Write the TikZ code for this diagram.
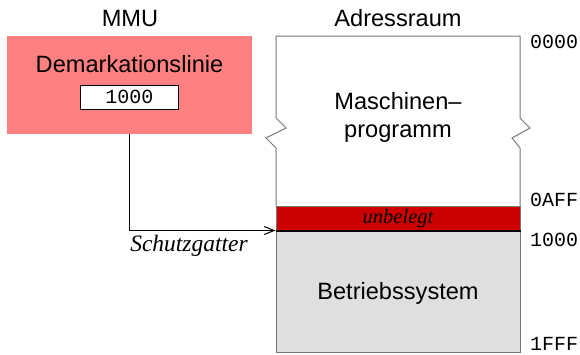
\documentclass[tikz,border=0pt]{standalone}
\usepackage{fontspec}
\setmainfont{Liberation Serif}
\setsansfont{Liberation Sans}
\setmonofont{Liberation Mono}
\usetikzlibrary{arrows.meta}
\definecolor{pinkbox}{HTML}{FF8080}
\definecolor{redband}{HTML}{CC0000}
\definecolor{osgray}{HTML}{DDE0DD}
\definecolor{outl}{HTML}{777777}
\tikzset{
  lbl/.style={font=\sffamily\fontsize{23.6}{28}\selectfont, inner sep=0pt},
  addr/.style={font=\ttfamily\fontsize{20}{24}\selectfont, inner sep=0pt, anchor=west},
  region/.style={draw=outl, line width=1pt, inner sep=0pt, minimum width=244pt},
}
\begin{document}
\begin{tikzpicture}[x=1pt,y=-1pt]
\useasboundingbox (0,0) rectangle (580,354);
% labels
\node[lbl] (mmulabel) at (130,18) {MMU};
\node[lbl] (adrlabel) at (398,18) {Adressraum};
% MMU box
\node[fill=pinkbox, inner sep=0pt, minimum width=245pt, minimum height=98pt] (mmu) at (129.5,85) {};
\node[lbl] (demark) at (129.5,64) {Demarkationslinie};
\node[draw=black, fill=white, line width=0.8pt, inner sep=0pt, minimum width=98pt, minimum height=24pt,
      font=\ttfamily\fontsize{20}{24}\selectfont] (val) at (129.5,97) {1000};
% address space (program part with break marks)
\draw[outl, line width=1pt] (276,206) -- (276,148) -- (266,138) -- (286,128) -- (276,118) -- (276,36)
   -- (520,36) -- (520,118) -- (530,128) -- (512,138) -- (520,148) -- (520,206);
\node[lbl, align=center, font=\sffamily\fontsize{23.6}{28}\selectfont] (prog) at (398,117) {Maschinen--\\programm};
% unbelegt
\node[region, fill=redband, minimum height=25pt, font=\itshape\fontsize{20.5}{24}\selectfont] (free) at (398,218.5) {unbelegt};
% Betriebssystem
\node[region, fill=osgray, minimum height=121pt] (os) at (398,291.5) {};
\node[lbl] (ostext) at (398,293) {Betriebssystem};
\draw[black, line width=2pt] (os.north west) -- (os.north east);
% addresses
\node[addr] (a0) at (530,42) {0000};
\node[addr] (a1) at (530,200) {0AFF};
\node[addr] (a2) at (530,240) {1000};
\node[addr] (a3) at (530,344) {1FFF};
% connector
\draw[line width=1pt, -{Straight Barb[length=10pt,width=8pt]}] (mmu.south) |- (os.north west);
\node[font=\itshape\fontsize{23.5}{28}\selectfont, inner sep=0pt] (gate) at (189,246) {Schutzgatter};
\end{tikzpicture}
\end{document}
